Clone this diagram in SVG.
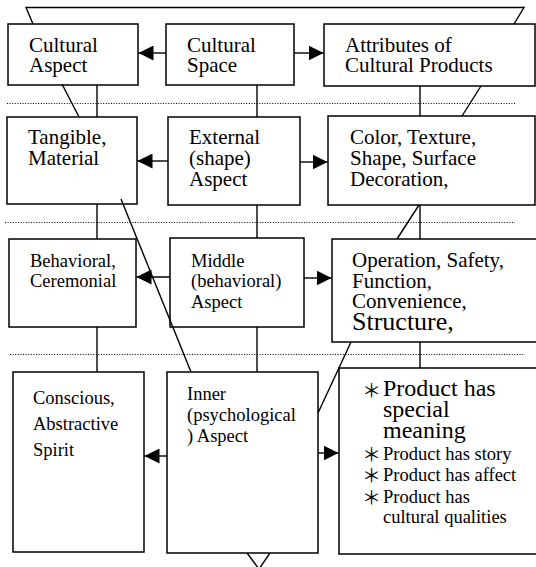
<svg xmlns="http://www.w3.org/2000/svg" width="536" height="567" viewBox="0 0 536 567">
<defs>
<style>
.box{fill:#fff;stroke:#000;stroke-width:1.5}
.ln{stroke:#000;stroke-width:1.4;fill:none}
.dot{stroke:#000;stroke-width:1;stroke-dasharray:1 1.6;fill:none}
.t{font-family:"Liberation Serif","Times New Roman",serif;fill:#000}
.f21{font-size:21px}
.f18{font-size:18.5px}
.f24{font-size:24px}
.f26{font-size:26px}
.ast{font-family:"Noto Sans CJK JP","Liberation Serif",sans-serif;font-size:19px}
</style>
<marker id="ah" markerWidth="16" markerHeight="15" refX="15" refY="7.5" orient="auto" markerUnits="userSpaceOnUse">
<path d="M0,0 L15,7.5 L0,15 z" fill="#000"/>
</marker>
</defs>
<rect width="536" height="567" fill="#fff"/>

<g id="dividers">
<line class="dot" x1="7" y1="103.5" x2="516" y2="103.5"/>
<line class="dot" x1="5" y1="222.5" x2="515" y2="222.5"/>
<line class="dot" x1="10" y1="354.5" x2="525" y2="354.5"/>
</g>

<g id="cultural-aspect">
<rect class="box" x="8" y="24" width="130" height="61"/>
<text class="t f21"><tspan x="29" y="52">Cultural</tspan><tspan x="29" y="72">Aspect</tspan></text>
</g>
<g id="cultural-space">
<rect class="box" x="166" y="24" width="128" height="61"/>
<text class="t f21"><tspan x="187" y="52">Cultural</tspan><tspan x="187" y="72">Space</tspan></text>
</g>
<g id="attributes">
<rect class="box" x="324" y="24" width="211" height="62"/>
<text class="t f21"><tspan x="345" y="52">Attributes of</tspan><tspan x="345" y="72">Cultural Products</tspan></text>
</g>

<g id="tangible">
<rect class="box" x="7" y="117" width="130" height="87"/>
<text class="t f21"><tspan x="28" y="144">Tangible,</tspan><tspan x="28" y="165">Material</tspan></text>
</g>
<g id="external">
<rect class="box" x="168" y="117" width="132" height="88"/>
<text class="t f21"><tspan x="189" y="144">External</tspan><tspan x="189" y="165">(shape)</tspan><tspan x="189" y="186">Aspect</tspan></text>
</g>
<g id="color">
<rect class="box" x="328" y="116" width="207" height="89"/>
<text class="t f21"><tspan x="350" y="144">Color, Texture,</tspan><tspan x="350" y="165">Shape, Surface</tspan><tspan x="350" y="186">Decoration,</tspan></text>
</g>

<g id="behavioral">
<rect class="box" x="9" y="239" width="127" height="88"/>
<text class="t f18"><tspan x="30" y="267">Behavioral,</tspan><tspan x="30" y="287">Ceremonial</tspan></text>
</g>
<g id="middle">
<rect class="box" x="170" y="238" width="134" height="89"/>
<text class="t f18"><tspan x="191" y="267">Middle</tspan><tspan x="191" y="287">(behavioral)</tspan><tspan x="191" y="308">Aspect</tspan></text>
</g>
<g id="operation">
<rect class="box" x="332" y="239" width="210" height="103"/>
<text class="t f21"><tspan x="352" y="267">Operation, Safety,</tspan><tspan x="352" y="288">Function,</tspan><tspan x="352" y="308">Convenience,</tspan><tspan class="f26" x="352" y="330">Structure,</tspan></text>
</g>

<g id="conscious">
<rect class="box" x="13" y="372" width="131" height="180"/>
<text class="t f18"><tspan x="33" y="404">Conscious,</tspan><tspan x="33" y="430">Abstractive</tspan><tspan x="33" y="456">Spirit</tspan></text>
</g>
<g id="inner">
<rect class="box" x="167" y="372" width="151" height="181"/>
<text class="t f18"><tspan x="187" y="400">Inner</tspan><tspan x="187" y="421">(psychological</tspan><tspan x="187" y="442">) Aspect</tspan></text>
</g>
<g id="product">
<rect class="box" x="339" y="368" width="203" height="186"/>
<text class="t f18"><tspan class="ast" x="362" y="398">＊</tspan><tspan class="f24" x="383" y="396">Product has</tspan><tspan class="f24" x="383" y="417">special</tspan><tspan class="f24" x="383" y="438">meaning</tspan><tspan class="ast" x="362" y="462">＊</tspan><tspan x="383" y="460">Product has story</tspan><tspan class="ast" x="362" y="483">＊</tspan><tspan x="383" y="481">Product has affect</tspan><tspan class="ast" x="362" y="505">＊</tspan><tspan x="383" y="503">Product has</tspan><tspan x="383" y="523">cultural qualities</tspan></text>
</g>

<g id="connectors">
<polyline class="ln" points="33,24 26,7.5 524,7.5 514,24"/>
<line class="ln" x1="62" y1="84" x2="79" y2="117"/>
<line class="ln" x1="121" y1="199" x2="191" y2="372"/>
<line class="ln" x1="481" y1="86" x2="462" y2="116"/>
<line class="ln" x1="419" y1="205" x2="397" y2="239"/>
<line class="ln" x1="351" y1="342" x2="318" y2="413"/>
<polyline class="ln" points="247,553 259,569 270,553"/>

<line class="ln" x1="97" y1="85" x2="97" y2="117"/>
<line class="ln" x1="97" y1="204" x2="97" y2="239"/>
<line class="ln" x1="97" y1="327" x2="97" y2="372"/>
<line class="ln" x1="257" y1="85" x2="257" y2="117"/>
<line class="ln" x1="257" y1="205" x2="257" y2="238"/>
<line class="ln" x1="257" y1="327" x2="257" y2="372"/>
<line class="ln" x1="420" y1="86" x2="420" y2="116"/>
<line class="ln" x1="420" y1="205" x2="420" y2="239"/>
<line class="ln" x1="420" y1="342" x2="420" y2="368"/>

<line class="ln" x1="166" y1="53" x2="138.5" y2="53" marker-end="url(#ah)"/>
<line class="ln" x1="294" y1="53" x2="323.5" y2="53" marker-end="url(#ah)"/>
<line class="ln" x1="168" y1="161" x2="137.5" y2="161" marker-end="url(#ah)"/>
<line class="ln" x1="300" y1="162" x2="327.5" y2="162" marker-end="url(#ah)"/>
<line class="ln" x1="170" y1="277" x2="136.5" y2="277" marker-end="url(#ah)"/>
<line class="ln" x1="304" y1="278" x2="331.5" y2="278" marker-end="url(#ah)"/>
<line class="ln" x1="167" y1="456" x2="144.5" y2="456" marker-end="url(#ah)"/>
<line class="ln" x1="318" y1="453" x2="338.5" y2="453" marker-end="url(#ah)"/>
</g>
</svg>
